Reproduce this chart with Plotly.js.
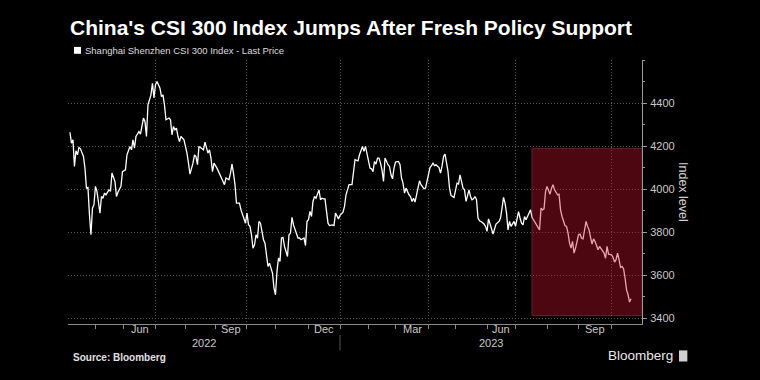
<!DOCTYPE html>
<html>
<head>
<meta charset="utf-8">
<script src="https://cdn.plot.ly/plotly-3.0.1.min.js"></script>
<style>html,body{margin:0;padding:0;background:#000;}</style>
</head>
<body>
<div id="chart" style="width:760px;height:380px;"></div>
<script>
// Trading-session index (0 = first session shown, ~late April 2022) and CSI 300 close
const sessions = [0,1,2,3,4,5,6,7,9,10,11,12,13,14,15,16,17,18,20,21,22,23,24,26,27,28,30,31,32,34,35,37,38,40,41,42,43,44,46,47,49,50,51,52,54,55,56,57,58,60,
61,62,63,64,66,67,68,69,70,71,72,73,74,76,77,78,79,80,82,83,84,85,86,88,89,90,92,93,94,95,96,98,100,101,103,104,106,107,108,109,110,111,113,114,116,117,118,119,120,121,
122,123,124,125,126,127,129,130,132,133,134,135,136,137,138,139,140,141,142,143,145,146,147,148,149,150,152,153,154,156,157,158,159,160,161,162,163,164,166,167,168,169,170,172,173,175,176,177,179,180,
182,183,184,185,186,188,189,190,192,193,195,196,197,198,200,201,202,203,204,205,206,207,208,209,210,212,213,214,215,216,217,219,220,221,222,223,224,226,227,228,229,230,231,232,233,234,236,237,238,239,
240,241,242,243,244,246,247,248,249,250,251,252,253,254,256,257,258,259,260,261,262,263,264,266,267,268,269,270,271,272,273,274,276,277,278,279,280,281,282,283,284,286,287,288,289,290,291,292,293,294,
296,297,298,299,300,301,302,303,304,306,307,308,309,310,311,312,313,314,315,316,317,318,319,320,321,322,323,324,325,326,327,328,329,330,331,332,333,334,335,336,337,338,339,340,341,342,343,344,345,346,
347,348,349,350,351,352,353,354,355,356,357,358,359,360,361,362,363,364,365,366,367,368,369,370,371,372,373,374];
const closes = [4265,4214,4230,4106,4179,4160,4194,4188,4152,4098,4005,4008,3881,3788,3912,3928,4013,3990,3889,3966,3958,3982,3974,3997,3990,4075,4036,3966,3986,4013,4082,4090,4160,4199,4183,4230,4191,4245,4268,4256,4331,4315,4245,4392,4439,4493,4424,4486,4501,4470,
4431,4439,4392,4323,4331,4323,4253,4292,4276,4284,4245,4222,4245,4230,4199,4168,4121,4070,4121,4160,4152,4114,4199,4191,4183,4219,4168,4183,4145,4082,4121,4098,4067,4044,4021,4052,4044,4075,4117,4075,4021,3935,3935,3904,3866,3842,3889,3835,3827,3788,
3726,3740,3788,3772,3850,3842,3765,3749,3641,3656,3633,3610,3540,3509,3618,3680,3664,3773,3776,3734,3687,3788,3796,3869,3834,3811,3773,3773,3765,3773,3738,3850,3858,3897,3873,3943,3966,3958,3997,3951,3958,3955,3955,3842,3831,3834,3831,3889,3862,3878,
3893,3920,3974,3997,4021,4021,4082,4137,4132,4160,4199,4176,4199,4160,4098,4095,4082,4129,4117,4145,4145,4121,4090,4036,4145,4114,4106,4067,4048,4098,4126,4129,4114,4052,4028,3982,4005,3974,3966,3943,3958,3940,3974,4005,4039,4021,4002,4005,4039,4067,
4101,4110,4121,4110,4114,4101,4075,4106,4152,4163,4126,4082,4005,3971,3962,3989,4028,4024,4067,4036,4005,3997,3943,3997,3966,3951,3955,3966,3951,3866,3853,3850,3838,3827,3804,3862,3842,3816,3791,3816,3838,3850,3866,3912,3962,3935,3889,3811,3850,3827,
3850,3827,3869,3896,3866,3842,3834,3873,3858,3893,3904,3869,3858,3850,3834,3827,3811,3912,3904,3909,3989,4013,3997,3977,4005,4021,3997,3982,3974,3977,3904,3873,3850,3830,3827,3796,3749,3726,3757,3703,3726,3757,3788,3791,3772,3769,3811,3850,3827,3811,
3776,3745,3769,3757,3738,3718,3734,3723,3718,3703,3679,3734,3698,3698,3695,3683,3661,3672,3703,3672,3636,3641,3630,3587,3532,3509,3475,3490,3528];

// Month boundaries (session index of first session of each month)
const monthNames    = ['May','Jun','Jul','Aug','Sep','Oct','Nov','Dec','Jan','Feb','Mar','Apr','May','Jun','Jul','Aug','Sep','Oct'];
const monthStarts   = [17,36,57,77,97,118,137,159,180,199,217,239,257,278,297,318,339,361];
const labeledMonths = ['Jun','Sep','Dec','Mar'];
const quarterStarts = [57,118,180,239,297,361];   // Jul, Oct, Jan, Apr, Jul, Oct -> vertical grid
const yearLabels    = ['2022','2023'];
const yearStart2023 = 180;
const yTicks = [3400,3600,3800,4000,4200,4400];
const xRange = [-1.3, 381.3];
const yRange = [3373, 4601];

// Highlighted period after the July 2023 Politburo meeting
const highlightStart = 308, highlightTop = 4190, highlightBottom = 3412;

const annotations = [];
const shapes = [];
const lbl = {family:'Liberation Sans, Arial, sans-serif', size:11, color:'#c8c8c8'};
for (let i = 0; i < monthNames.length; i++) {
  if (!labeledMonths.includes(monthNames[i])) continue;
  const end = i + 1 < monthStarts.length ? monthStarts[i+1] : xRange[1];
  annotations.push({xref:'x', yref:'paper', x:(monthStarts[i]+end)/2, y:-0.02, text:monthNames[i],
    showarrow:false, xanchor:'center', yanchor:'middle', font:lbl});
}
annotations.push({xref:'x', yref:'paper', x:(xRange[0]+yearStart2023)/2, y:-0.073, text:yearLabels[0], showarrow:false, xanchor:'center', yanchor:'middle', font:lbl});
annotations.push({xref:'x', yref:'paper', x:(yearStart2023+xRange[1])/2, y:-0.073, text:yearLabels[1], showarrow:false, xanchor:'center', yanchor:'middle', font:lbl});
annotations.push({xref:'paper', yref:'paper', x:0.026, y:1.036, text:'Shanghai Shenzhen CSI 300 Index - Last Price', showarrow:false, xanchor:'left', yanchor:'middle',
  font:{family:'Liberation Sans, Arial, sans-serif', size:9.5, color:'#dcdcdc'}});
annotations.push({xref:'paper', yref:'paper', x:1.0714, y:0.5, text:'Index level', textangle:90, showarrow:false, xanchor:'center', yanchor:'middle',
  font:{family:'Liberation Sans, Arial, sans-serif', size:12.5, color:'#d0d0d0'}});
annotations.push({xref:'paper', yref:'paper', x:0.006, y:-0.125, text:'<b>Source: Bloomberg</b>', showarrow:false, xanchor:'left', yanchor:'middle',
  font:{family:'Liberation Sans, Arial, sans-serif', size:10, color:'#e0e0e0'}});
annotations.push({xref:'paper', yref:'paper', x:1.058, y:-0.12, text:'Bloomberg', showarrow:false, xanchor:'right', yanchor:'middle',
  font:{family:'Liberation Sans, Arial, sans-serif', size:13.5, color:'#e8e8e8'}});

shapes.push({type:'rect', xref:'x', yref:'y', x0:highlightStart, x1:xRange[1], y0:highlightBottom, y1:highlightTop,
  fillcolor:'rgb(200,20,45)', opacity:0.38, line:{color:'rgb(255,90,110)', width:1}, layer:'above'});
shapes.push({type:'line', xref:'x', yref:'paper', x0:yearStart2023, x1:yearStart2023, y0:-0.042, y1:-0.1, line:{color:'#555', width:1}});
// legend swatch
shapes.push({type:'rect', xref:'paper', yref:'paper', x0:0.0105, x1:0.0226, y0:1.0235, y1:1.0495, fillcolor:'#ffffff', line:{width:0}});
// logo mark
shapes.push({type:'rect', xref:'paper', yref:'paper', x0:1.0645, x1:1.079, y0:-0.142, y1:-0.1, fillcolor:'#d0d0d0', line:{width:0}});

const trace = {x:sessions, y:closes, type:'scatter', mode:'lines', line:{color:'#ffffff', width:1.3}, hoverinfo:'skip', showlegend:false};

const layout = {
  width:760, height:380,
  paper_bgcolor:'#000', plot_bgcolor:'#000',
  margin:{l:68, r:118, t:60, b:56},
  title:{text:"China's CSI 300 Index Jumps After Fresh Policy Support", xref:'container', yref:'container', x:70/760, xanchor:'left', y:1-28/380, yanchor:'middle',
    font:{family:'Liberation Sans, Arial, sans-serif', size:21, color:'#ffffff', weight:700}},
  showlegend:false,
  xaxis:{range:xRange, showline:true, linecolor:'#8a8a8a', linewidth:1, tickmode:'array', tickvals:quarterStarts, showticklabels:false,
    ticks:'outside', ticklen:4, tickcolor:'#8a8a8a', showgrid:true, gridcolor:'#555555', griddash:'1px,2px', gridwidth:1, zeroline:false,
    minor:{tickmode:'array', tickvals:monthStarts, ticks:'outside', ticklen:4, tickcolor:'#8a8a8a', showgrid:false}},
  yaxis:{range:yRange, side:'right', showline:true, linecolor:'#9a9a9a', linewidth:1, tickmode:'array', tickvals:yTicks,
    ticks:'outside', ticklen:4, tickcolor:'#9a9a9a', showgrid:true, gridcolor:'#555555', griddash:'1px,2px', gridwidth:1, zeroline:false,
    tickfont:{family:'Liberation Sans, Arial, sans-serif', size:11, color:'#c8c8c8'}, ticklabelstandoff:1,
    minor:{dtick:100, tick0:3400, ticks:'outside', ticklen:2, tickcolor:'#9a9a9a', showgrid:false}},
  annotations:annotations,
  shapes:shapes
};
Plotly.newPlot('chart', [trace], layout, {staticPlot:true, displayModeBar:false});
</script>
</body>
</html>
